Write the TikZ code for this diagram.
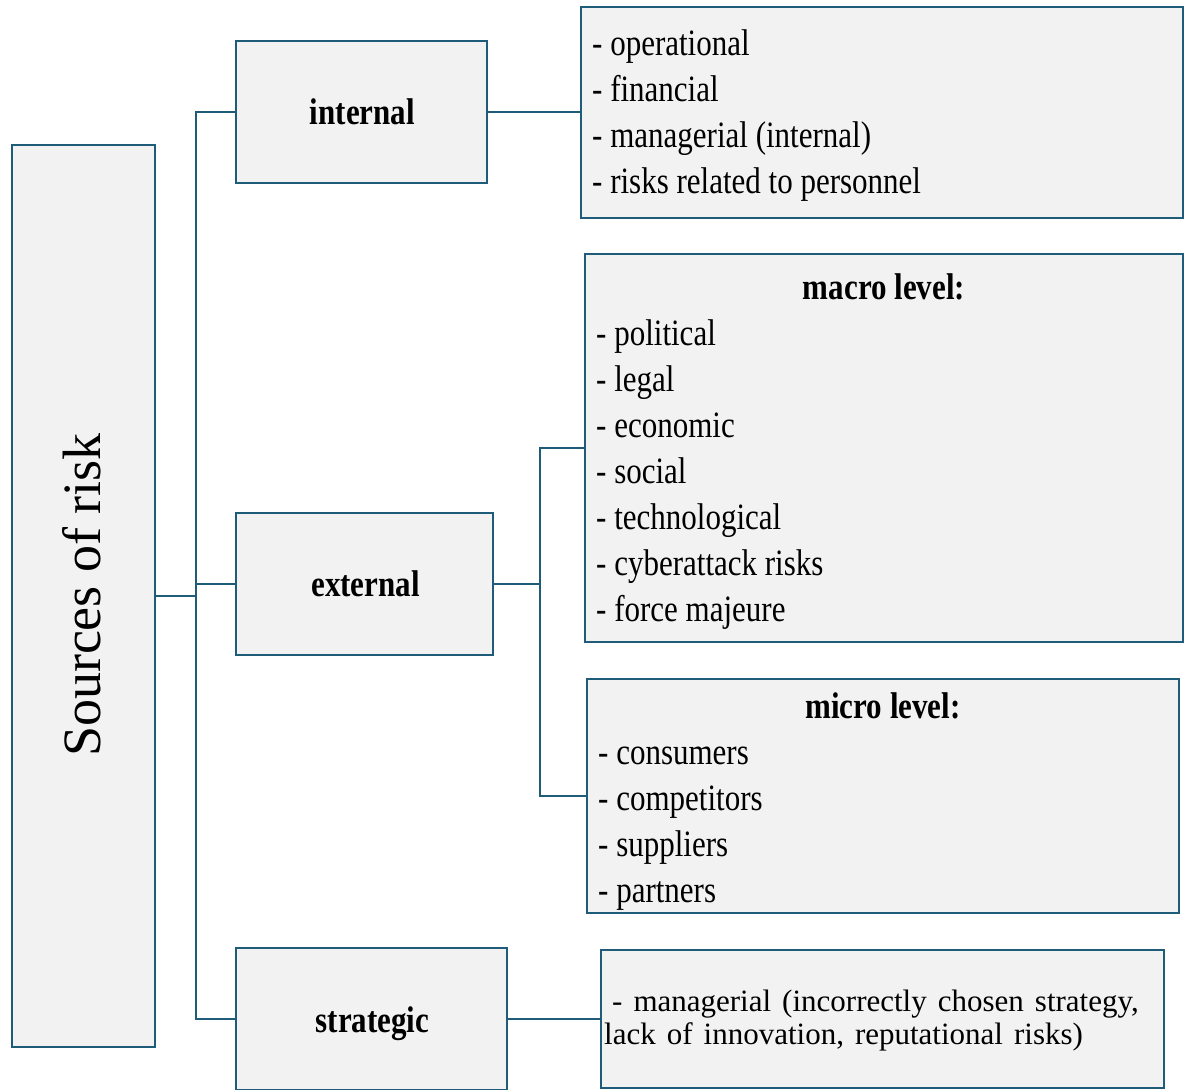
\documentclass[tikz,border=0pt]{standalone}
\usepackage{fontspec}
\usepackage{graphicx}
\setmainfont{Liberation Serif}
\definecolor{edge}{RGB}{30,92,122}
\definecolor{boxfill}{RGB}{242,242,242}
\newcommand\vs[1]{\scalebox{1}[1.2]{#1}}
\begin{document}
\begin{tikzpicture}[x=1pt,y=-1pt,
  box/.style={draw=edge,fill=boxfill,line width=2pt,inner sep=0pt,rectangle},
  conn/.style={draw=edge,line width=2pt},
  txt/.style={inner sep=0pt,anchor=base west,font=\fontsize{31}{37}\selectfont},
  head/.style={inner sep=0pt,anchor=base,font=\fontsize{31}{37}\selectfont\bfseries}]
\useasboundingbox (0,0) rectangle (1187,1090);
% boxes
\node[box,minimum width=143pt,minimum height=902pt] (src) at (83.5,596) {};
\node[box,minimum width=251pt,minimum height=142pt] (int) at (361.5,112) {};
\node[box,minimum width=257pt,minimum height=142pt] (ext) at (364.5,584) {};
\node[box,minimum width=271pt,minimum height=142pt] (str) at (371.5,1019) {};
\node[box,minimum width=602pt,minimum height=211pt] (intl) at (882,112.5) {};
\node[box,minimum width=598pt,minimum height=388pt] (macro) at (884,448) {};
\node[box,minimum width=592pt,minimum height=234pt] (micro) at (883,796) {};
\node[box,minimum width=563pt,minimum height=138pt] (strl) at (882.5,1019) {};
% titles
\node[inner sep=0pt,anchor=base,rotate=90,font=\fontsize{54}{60}\selectfont] (srct) at (100,595) {Sources of risk};
\node[head] (intt) at (362.5,124) {\vs{internal}};
\node[head] (extt) at (365.5,596) {\vs{external}};
\node[head] (strt) at (372.5,1032) {\vs{strategic}};
% internal list
\node[txt] (i1) at (592,55) {\vs{- operational}};
\node[txt] (i2) at (592,101) {\vs{- financial}};
\node[txt] (i3) at (592,147) {\vs{- managerial (internal)}};
\node[txt] (i4) at (592,193) {\vs{- risks related to personnel}};
% macro list
\node[head] (mah) at (884,299) {\vs{macro level:}};
\node[txt] (m1) at (596,345) {\vs{- political}};
\node[txt] (m2) at (596,391) {\vs{- legal}};
\node[txt] (m3) at (596,437) {\vs{- economic}};
\node[txt] (m4) at (596,483) {\vs{- social}};
\node[txt] (m5) at (596,529) {\vs{- technological}};
\node[txt] (m6) at (596,575) {\vs{- cyberattack risks}};
\node[txt] (m7) at (596,621) {\vs{- force majeure}};
% micro list
\node[head] (mih) at (883,718) {\vs{micro level:}};
\node[txt] (u1) at (598,764) {\vs{- consumers}};
\node[txt] (u2) at (598,810) {\vs{- competitors}};
\node[txt] (u3) at (598,856) {\vs{- suppliers}};
\node[txt] (u4) at (598,902) {\vs{- partners}};
% strategic list (two lines in one node)
\node[txt] (s1) at (604,1044) {\vbox{\fontsize{31}{33}\selectfont\lineskiplimit=-100pt\spaceskip=11pt
  \hbox{\hspace*{8pt}- managerial (incorrectly chosen strategy,}
  \hbox{lack of innovation, reputational risks)}}};
% connectors
\coordinate (tr) at (196,596);
\coordinate (eb) at (540,584);
\draw[conn] (src.east) -- (tr);
\draw[conn] (int.west) -| (tr) |- (str.west);
\draw[conn] (ext.west) -- (ext.west -| tr);
\draw[conn] (int.east) -- (int.east -| intl.west);
\draw[conn] (ext.east) -- (eb);
\draw[conn] (macro.west) -| (eb) |- (micro.west);
\draw[conn] (str.east) -- (strl.west);
\end{tikzpicture}
\end{document}
